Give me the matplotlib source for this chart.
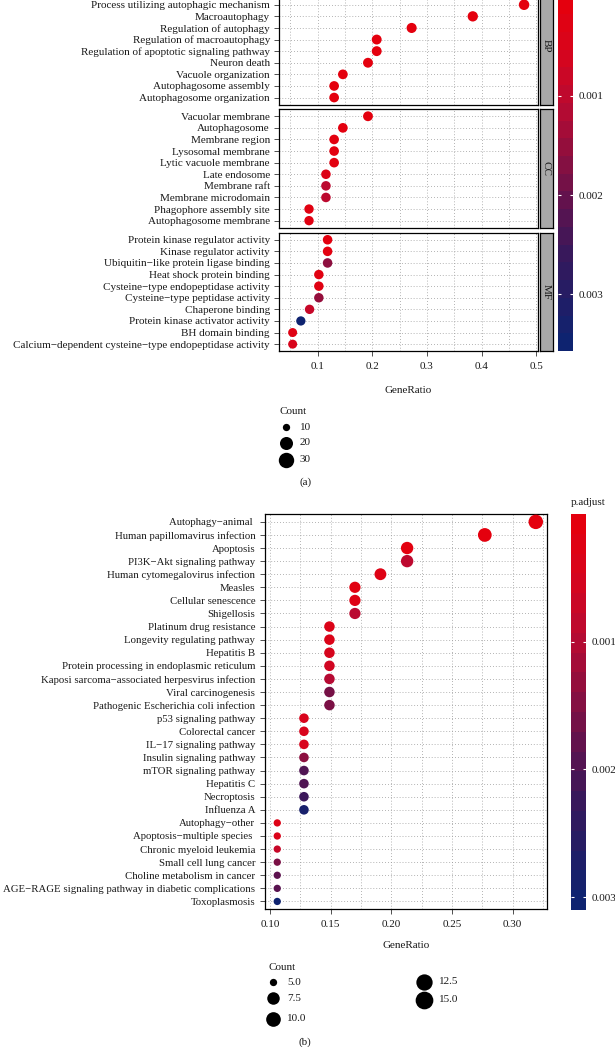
import numpy as np
import matplotlib
matplotlib.use("Agg")
import matplotlib.pyplot as plt
from matplotlib.colors import LinearSegmentedColormap, Normalize
from matplotlib.cm import ScalarMappable
from matplotlib.ticker import MultipleLocator

plt.rcParams['font.family'] = ['Liberation Serif', 'DejaVu Serif']

################################################################################
# Data

# (a) GO enrichment, one facet per ontology (the BP facet is cut at the top)
bp_terms = ["Process utilizing autophagic mechanism", "Macroautophagy",
            "Regulation of autophagy", "Regulation of macroautophagy",
            "Regulation of apoptotic signaling pathway", "Neuron death",
            "Vacuole organization", "Autophagosome assembly", "Autophagosome organization"]
bp_ratio = [0.478, 0.384, 0.272, 0.208, 0.208, 0.192, 0.146, 0.130, 0.130]
bp_count = [33, 26, 19, 14, 14, 13, 10, 9, 9]
bp_padj = [1e-12, 5e-11, 2e-8, 1e-7, 1.5e-7, 4e-7, 1e-5, 2e-5, 2e-5]

cc_terms = ["Vacuolar membrane", "Autophagosome", "Membrane region", "Lysosomal membrane",
            "Lytic vacuole membrane", "Late endosome", "Membrane raft",
            "Membrane microdomain", "Phagophore assembly site", "Autophagosome membrane"]
cc_ratio = [0.192, 0.146, 0.130, 0.130, 0.130, 0.115, 0.115, 0.115, 0.084, 0.084]
cc_count = [12, 9, 8, 8, 8, 7, 7, 7, 5, 5]
cc_padj = [2e-5, 3e-5, 6e-5, 6e-5, 6e-5, 3e-4, 1.0e-3, 1.0e-3, 1e-4, 1.5e-4]

mf_terms = ["Protein kinase regulator activity", "Kinase regulator activity",
            "Ubiquitin\u2212like protein ligase binding", "Heat shock protein binding",
            "Cysteine\u2212type endopeptidase activity", "Cysteine\u2212type peptidase activity",
            "Chaperone binding", "Protein kinase activator activity", "BH domain binding",
            "Calcium\u2212dependent cysteine\u2212type endopeptidase activity"]
mf_ratio = [0.118, 0.118, 0.118, 0.102, 0.102, 0.102, 0.085, 0.069, 0.054, 0.054]
mf_count = [7, 7, 7, 6, 6, 6, 5, 4, 3, 3]
mf_padj = [5e-5, 6e-5, 1.6e-3, 1e-4, 1.5e-4, 1.5e-3, 8e-4, 3.57e-3, 2e-4, 4.5e-4]

# (b) KEGG enrichment
kegg_terms = ["Autophagy\u2212animal ", "Human papillomavirus infection", "Apoptosis",
              "PI3K\u2212Akt signaling pathway", "Human cytomegalovirus infection", "Measles",
              "Cellular senescence", "Shigellosis", "Platinum drug resistance",
              "Longevity regulating pathway", "Hepatitis B",
              "Protein processing in endoplasmic reticulum",
              "Kaposi sarcoma\u2212associated herpesvirus infection", "Viral carcinogenesis",
              "Pathogenic Escherichia coli infection", "p53 signaling pathway",
              "Colorectal cancer", "IL\u221217 signaling pathway", "Insulin signaling pathway",
              "mTOR signaling pathway", "Hepatitis C", "Necroptosis", "Influenza A",
              "Autophagy\u2212other", "Apoptosis\u2212multiple species ",
              "Chronic myeloid leukemia", "Small cell lung cancer",
              "Choline metabolism in cancer",
              "AGE\u2212RAGE signaling pathway in diabetic complications", "Toxoplasmosis"]
kegg_ratio = [0.319, 0.277, 0.213, 0.213, 0.191, 0.170, 0.170, 0.170,
              0.149, 0.149, 0.149, 0.149, 0.149, 0.149, 0.149,
              0.128, 0.128, 0.128, 0.128, 0.128, 0.128, 0.128, 0.128,
              0.106, 0.106, 0.106, 0.106, 0.106, 0.106, 0.106]
kegg_count = [15, 13, 10, 10, 9, 8, 8, 8,
              7, 7, 7, 7, 7, 7, 7,
              6, 6, 6, 6, 6, 6, 6, 6,
              5, 5, 5, 5, 5, 5, 5]
kegg_padj = [1e-6, 2e-5, 5e-5, 8.5e-4, 2e-4, 1e-4, 2e-4, 9e-4,
             3e-4, 3e-4, 4.5e-4, 5.5e-4, 9.5e-4, 1.6e-3, 1.55e-3,
             4e-4, 4e-4, 4e-4, 1.4e-3, 2.0e-3, 2.0e-3, 2.25e-3, 2.9e-3,
             2e-4, 3e-4, 7e-4, 1.55e-3, 1.85e-3, 1.9e-3, 3.1e-3]

count_a_legend = [10, 20, 30]
count_b_legend = [5.0, 7.5, 10.0, 12.5, 15.0]

################################################################################
# Styling helpers

W, H = 615, 1047
fig = plt.figure(figsize=(W / 100, H / 100), dpi=100)

TXT = '#1a1a1a'
cmap = LinearSegmentedColormap.from_list(
    'padj', [(0.0, '#E4000E'), (0.15, '#D6051E'), (0.30, '#B80A32'),
             (0.45, '#8C0F3F'), (0.60, '#5C134F'), (0.75, '#35185C'),
             (1.0, '#0E2370')])


def box(x0, y0, x1, y1):
    # pixel box measured from the top-left corner -> figure rect
    return [x0 / W, 1 - y1 / H, (x1 - x0) / W, (y1 - y0) / H]


def px(x, y):
    return x / W, 1 - y / H


def diam(count, cmin, cmax, r0, r1):
    # ggplot-like area scale, diameter in pixels
    t = np.clip((np.asarray(count, float) - cmin) / (cmax - cmin), 0, 1)
    return r0 + (r1 - r0) * np.sqrt(t)


def dot_panel(ax, terms, ratio, count, padj, norm, dsize, xlim, major, minor,
              show_x=True, ypad=3.0, ylab_size=8, top_slot=0):
    ypos = np.arange(len(terms))
    d_pt = dsize(count) * 0.72
    ax.scatter(ratio, ypos, s=d_pt ** 2, c=padj, cmap=cmap, norm=norm,
               linewidths=0, zorder=3)
    ax.set_yticks(ypos)
    ax.set_yticklabels(terms)
    ax.set_ylim(len(terms) - 1 + 0.6, -0.6 - top_slot)
    ax.set_xlim(*xlim)
    ax.xaxis.set_major_locator(MultipleLocator(major))
    ax.xaxis.set_minor_locator(MultipleLocator(minor))
    ax.set_axisbelow(True)
    ax.grid(which='both', axis='x', color='#9a9a9a', lw=0.6, ls=(0, (1, 2.5)))
    ax.grid(which='major', axis='y', color='#9a9a9a', lw=0.6, ls=(0, (1, 2.5)))
    for s in ax.spines.values():
        s.set_color('black')
        s.set_linewidth(0.9)
    ax.tick_params(axis='y', length=3.5, width=0.6, color='#333333',
                   labelsize=ylab_size, labelcolor=TXT, pad=ypad)
    ax.tick_params(axis='x', which='minor', length=0)
    ax.tick_params(axis='x', which='major', length=3.5, width=0.6, color='#333333',
                   labelsize=8, labelcolor=TXT, pad=4)
    if not show_x:
        ax.tick_params(axis='x', which='major', length=0, labelbottom=False)


def add_cbar(rect, norm, ticks):
    cax = fig.add_axes(rect)
    sm = ScalarMappable(norm=norm, cmap=cmap.resampled(20))
    cb = fig.colorbar(sm, cax=cax)
    cb.outline.set_visible(False)
    cax.invert_yaxis()
    cb.set_ticks(ticks)
    cb.set_ticklabels([f'{t:.3f}' for t in ticks])
    cax.tick_params(axis='y', direction='in', length=2.5, width=0.8,
                    color='white', left=True, right=True, labelleft=False,
                    labelright=True, labelsize=8, labelcolor=TXT, pad=4)
    return cb


################################################################################
# Panel (a): faceted GO dot plot

norm_a = Normalize(vmin=0.0, vmax=0.00357)
size_a = lambda c: diam(c, 3, 33, 9.0, 10.5)
xlim_a = (0.029, 0.5035)

facets = [("BP", bp_terms, bp_ratio, bp_count, bp_padj, -13.8, 104.5, 1),
          ("CC", cc_terms, cc_ratio, cc_count, cc_padj, 109.3, 227.6, 0),
          ("MF", mf_terms, mf_ratio, mf_count, mf_padj, 232.8, 351.1, 0)]

for name, terms, ratio, count, padj, y0, y1, slot in facets:
    ax = fig.add_axes(box(279, y0, 538, y1))
    dot_panel(ax, terms, ratio, count, padj, norm_a, size_a, xlim_a, 0.1, 0.05,
              show_x=(name == "MF"), ypad=3.0, top_slot=slot)
    sax = fig.add_axes(box(540, y0, 553, y1))
    sax.set_facecolor('#A8A8A8')
    sax.set_xticks([])
    sax.set_yticks([])
    for s in sax.spines.values():
        s.set_color('black')
        s.set_linewidth(0.9)
    sax.text(0.5, 0.5, name, rotation=270, ha='center', va='center',
             fontsize=8, color=TXT, transform=sax.transAxes)

add_cbar(box(558, -3.5, 573, 351), norm_a, [0.001, 0.002, 0.003])

fig.text(*px(408.5, 390.7), "GeneRatio", ha='center', va='center', fontsize=8, color=TXT)

################################################################################
# Panel (b): KEGG dot plot

norm_b = Normalize(vmin=0.0, vmax=0.0031)
size_b = lambda c: diam(c, 5, 15, 7.3, 14.5)

axb = fig.add_axes(box(265, 514, 546.7, 909.3))
dot_panel(axb, kegg_terms, kegg_ratio, kegg_count, kegg_padj, norm_b, size_b,
          (0.0959, 0.328), 0.05, 0.025, ypad=3.5, ylab_size=7.75)
axb.xaxis.set_major_formatter(lambda v, p: f'{v:.2f}')

add_cbar(box(570.7, 514, 586, 910), norm_b, [0.001, 0.002, 0.003])
fig.text(*px(570.7, 502.3), "p.adjust", ha='left', va='center', fontsize=8, color=TXT)
fig.text(*px(405.8, 946), "GeneRatio", ha='center', va='center', fontsize=8, color=TXT)

################################################################################
# Size legends and panel tags (drawn on a transparent overlay in pixel units)

lax = fig.add_axes([0, 0, 1, 1])
lax.set_xlim(0, W)
lax.set_ylim(H, 0)
lax.axis('off')
lax.patch.set_alpha(0)

# legend (a)
lax.text(279, 411.7, "Count", ha='left', va='center', fontsize=8, color=TXT)
da = diam(count_a_legend, 10, 30, 7.3, 15.4) * 0.72
for v, d, y in zip(count_a_legend, da, [427.3, 442.7, 460.0]):
    lax.scatter([286], [y], s=d ** 2, color='black', linewidths=0, clip_on=False)
    lax.text(300, y, f'{v}', ha='left', va='center', fontsize=8, color=TXT)
lax.text(305.3, 481.7, "(a)", ha='center', va='center', fontsize=8, color=TXT)

# legend (b), two columns
lax.text(268.3, 967.7, "Count", ha='left', va='center', fontsize=8, color=TXT)
db = diam(count_b_legend, 5, 15, 7.3, 17.7) * 0.72
key_pos = [(272.7, 982.3), (272.7, 998.3), (272.7, 1018.7), (424.3, 981.7), (424.3, 1000.0)]
for v, d, (x, y) in zip(count_b_legend, db, key_pos):
    lax.scatter([x], [y], s=d ** 2, color='black', linewidths=0, clip_on=False)
    lax.text(x + 14.6, y, f'{v:.1f}', ha='left', va='center', fontsize=8, color=TXT)
lax.text(305.3, 1041.7, "(b)", ha='center', va='center', fontsize=8, color=TXT)

fig.savefig("out.png", dpi=100, facecolor='white')
